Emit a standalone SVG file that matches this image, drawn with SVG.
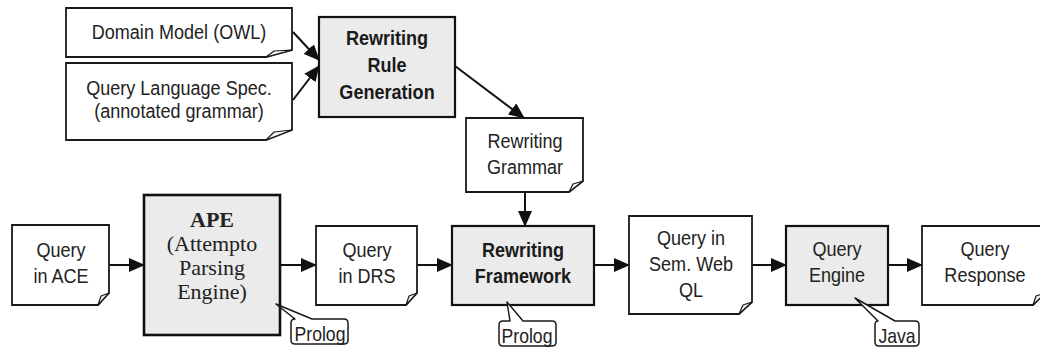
<svg xmlns="http://www.w3.org/2000/svg" width="1040" height="349" viewBox="0 0 1040 349">
<defs>
<style>
.doc{fill:#fff;stroke:#1a1a1a;stroke-width:1.8}
.curl{fill:#f2f2f2;stroke:#1a1a1a;stroke-width:1.2;stroke-linejoin:round}
.proc{fill:#ebebeb;stroke:#111;stroke-width:2.2}
.t{font-family:"Liberation Sans",Arial,sans-serif;font-size:21px;fill:#222;text-anchor:middle}
.b{font-weight:bold;fill:#1a1a1a}
.serif{font-family:"Liberation Serif","Times New Roman",serif;font-size:22px;fill:#222;text-anchor:middle}
.call{fill:#fff;stroke:#1a1a1a;stroke-width:1.5;stroke-linejoin:round}
.ct{font-family:"Liberation Sans",Arial,sans-serif;font-size:20px;fill:#222;text-anchor:middle}
.c{stroke:#111;stroke-width:2;fill:none;marker-end:url(#ah)}
</style>
<marker id="ah" markerUnits="userSpaceOnUse" markerWidth="16" markerHeight="14" refX="15" refY="7" orient="auto">
<path d="M0,0 L16,7 L0,14 Z" fill="#111"/>
</marker>
</defs>

<g id="connectors">
<line class="c" x1="293" y1="32" x2="319" y2="60"/>
<line class="c" x1="293" y1="100" x2="319" y2="66"/>
<line class="c" x1="455" y1="66" x2="524" y2="118"/>
<line class="c" x1="525" y1="192" x2="525" y2="226"/>
<line class="c" x1="109" y1="265" x2="144" y2="265"/>
<line class="c" x1="280" y1="265" x2="316" y2="265"/>
<line class="c" x1="417" y1="265" x2="452" y2="265"/>
<line class="c" x1="594" y1="265" x2="629" y2="265"/>
<line class="c" x1="752" y1="265" x2="786" y2="265"/>
<line class="c" x1="888" y1="265" x2="922" y2="265"/>
</g>

<g id="domain-model">
<path class="doc" d="M66,8 H292 V50 L266,57 H66 Z"/>
<path class="curl" d="M266,57 L274,51 L292,50 Z"/>
<text class="t" transform="translate(179,39) scale(0.86,1)">Domain Model (OWL)</text>
</g>

<g id="query-language-spec">
<path class="doc" d="M66,63 H292 V130 L266,140 H66 Z"/>
<path class="curl" d="M266,140 L274,132 L292,130 Z"/>
<text class="t" transform="translate(179,95) scale(0.86,1)">Query Language Spec.</text>
<text class="t" transform="translate(179,118) scale(0.86,1)">(annotated grammar)</text>
</g>

<g id="rewriting-rule-generation">
<rect class="proc" x="319" y="17" width="136" height="100"/>
<text class="t b" transform="translate(387,45) scale(0.86,1)">Rewriting</text>
<text class="t b" transform="translate(387,72) scale(0.86,1)">Rule</text>
<text class="t b" transform="translate(387,99) scale(0.86,1)">Generation</text>
</g>

<g id="rewriting-grammar">
<path class="doc" d="M466,118 H583 V181 L569,192 H466 Z"/>
<path class="curl" d="M569,192 L573,184 L583,181 Z"/>
<text class="t" transform="translate(525,148) scale(0.86,1)">Rewriting</text>
<text class="t" transform="translate(525,174) scale(0.86,1)">Grammar</text>
</g>

<g id="query-in-ace">
<path class="doc" d="M12,225 H109 V293 L98,305 H12 Z"/>
<path class="curl" d="M98,305 L101,296 L109,293 Z"/>
<text class="t" transform="translate(61,257) scale(0.86,1)">Query</text>
<text class="t" transform="translate(61,283) scale(0.86,1)">in ACE</text>
</g>

<g id="ape">
<rect class="proc" x="144" y="195" width="136" height="140" style="stroke-width:2.6"/>
<text class="serif" x="212" y="227" style="font-weight:bold">APE</text>
<text class="serif" x="212" y="251">(Attempto</text>
<text class="serif" x="212" y="275">Parsing</text>
<text class="serif" x="212" y="299">Engine)</text>
</g>

<g id="prolog-ape">
<path class="call" d="M295,319 L276,304 L312,319 H344 Q348,319 348,323 V340 Q348,344 344,344 H295 Q291,344 291,340 V323 Q291,319 295,319 Z"/>
<text class="ct" transform="translate(320,341) scale(0.88,1)">Prolog</text>
</g>

<g id="query-in-drs">
<path class="doc" d="M316,226 H417 V293 L406,305 H316 Z"/>
<path class="curl" d="M406,305 L409,296 L417,293 Z"/>
<text class="t" transform="translate(367,257) scale(0.86,1)">Query</text>
<text class="t" transform="translate(367,283) scale(0.86,1)">in DRS</text>
</g>

<g id="rewriting-framework">
<rect class="proc" x="452" y="226" width="142" height="79"/>
<text class="t b" transform="translate(523,257) scale(0.86,1)">Rewriting</text>
<text class="t b" transform="translate(523,283) scale(0.86,1)">Framework</text>
</g>

<g id="prolog-rf">
<path class="call" d="M510,321 L507,302 L523,321 H552 Q556,321 556,325 V342 Q556,346 552,346 H503 Q499,346 499,342 V325 Q499,321 503,321 Z"/>
<text class="ct" transform="translate(527,343) scale(0.88,1)">Prolog</text>
</g>

<g id="query-in-sem-web-ql">
<path class="doc" d="M629,216 H752 V302 L739,314 H629 Z"/>
<path class="curl" d="M739,314 L743,305 L752,302 Z"/>
<text class="t" transform="translate(691,245) scale(0.86,1)">Query in</text>
<text class="t" transform="translate(691,271) scale(0.86,1)">Sem. Web</text>
<text class="t" transform="translate(691,297) scale(0.86,1)">QL</text>
</g>

<g id="query-engine">
<rect class="proc" x="786" y="226" width="102" height="79"/>
<text class="t" transform="translate(837,256) scale(0.86,1)">Query</text>
<text class="t" transform="translate(837,282) scale(0.86,1)">Engine</text>
</g>

<g id="java">
<path class="call" d="M878,321 L855,298 L895,321 H915 Q919,321 919,325 V342 Q919,346 915,346 H879 Q875,346 875,342 V325 Q875,321 878,321 Z"/>
<text class="ct" transform="translate(897,343) scale(0.88,1)">Java</text>
</g>

<g id="query-response">
<path class="doc" d="M922,226 H1045 V293 L1033,305 H922 Z"/>
<path class="curl" d="M1033,305 L1036,296 L1045,293 Z"/>
<text class="t" transform="translate(985,256) scale(0.86,1)">Query</text>
<text class="t" transform="translate(985,282) scale(0.86,1)">Response</text>
</g>
</svg>
